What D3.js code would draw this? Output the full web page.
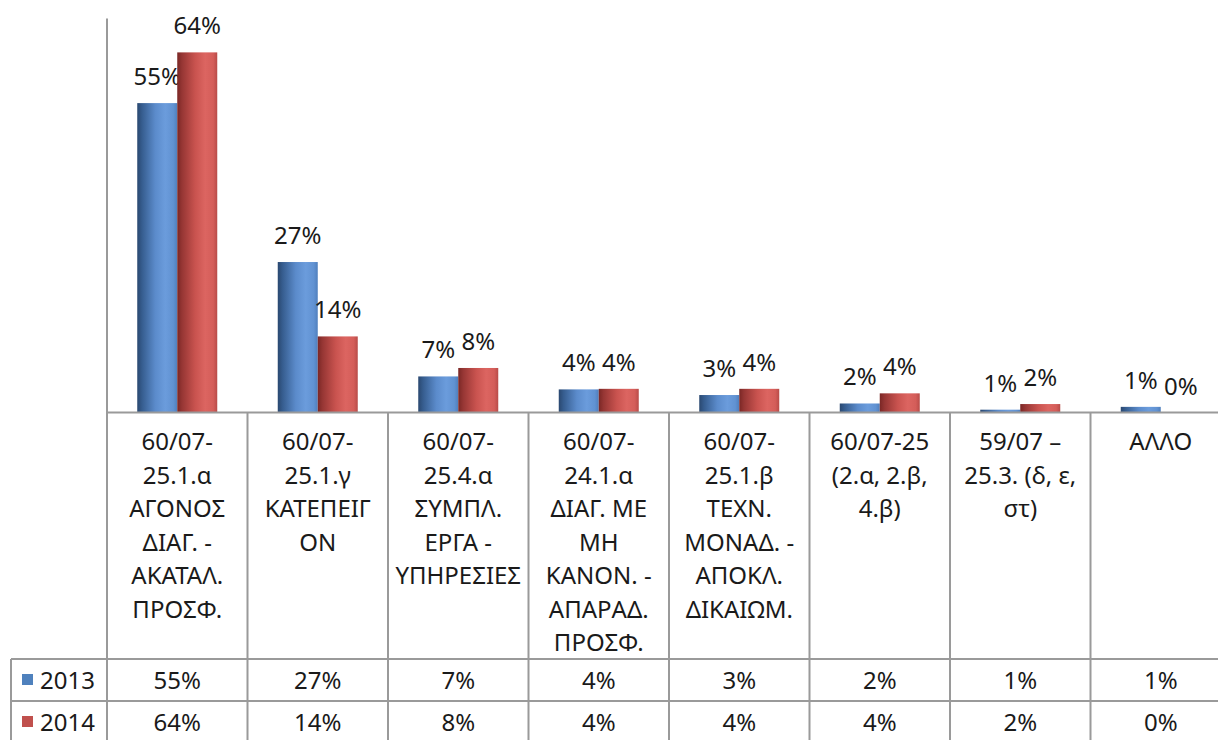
<!DOCTYPE html>
<html>
<head>
<meta charset="utf-8">
<script src="https://cdn.jsdelivr.net/npm/d3@7"></script>
<style>
  html, body { margin: 0; padding: 0; background: #fff; }
  svg { display: block; }
  text { font-family: "Noto Sans", "Open Sans", sans-serif; fill: #1a1a1a; }
</style>
</head>
<body>
<svg id="chart" width="1218" height="740"></svg>
<script>
// ---- data ----
const categories = [
  "60/07-25.1.α ΑΓΟΝΟΣ ΔΙΑΓ. - ΑΚΑΤΑΛ. ΠΡΟΣΦ.",
  "60/07-25.1.γ ΚΑΤΕΠΕΙΓΟΝ",
  "60/07-25.4.α ΣΥΜΠΛ. ΕΡΓΑ - ΥΠΗΡΕΣΙΕΣ",
  "60/07-24.1.α ΔΙΑΓ. ΜΕ ΜΗ ΚΑΝΟΝ. - ΑΠΑΡΑΔ. ΠΡΟΣΦ.",
  "60/07-25.1.β ΤΕΧΝ. ΜΟΝΑΔ. - ΑΠΟΚΛ. ΔΙΚΑΙΩΜ.",
  "60/07-25 (2.α, 2.β, 4.β)",
  "59/07 – 25.3. (δ, ε, στ)",
  "ΑΛΛΟ"
];
const categoryLines = [
  ["60/07-", "25.1.α", "ΑΓΟΝΟΣ", "ΔΙΑΓ. -", "ΑΚΑΤΑΛ.", "ΠΡΟΣΦ."],
  ["60/07-", "25.1.γ", "ΚΑΤΕΠΕΙΓ", "ΟΝ"],
  ["60/07-", "25.4.α", "ΣΥΜΠΛ.", "ΕΡΓΑ -", "ΥΠΗΡΕΣΙΕΣ"],
  ["60/07-", "24.1.α", "ΔΙΑΓ. ΜΕ", "ΜΗ", "ΚΑΝΟΝ. -", "ΑΠΑΡΑΔ.", "ΠΡΟΣΦ."],
  ["60/07-", "25.1.β", "ΤΕΧΝ.", "ΜΟΝΑΔ. -", "ΑΠΟΚΛ.", "ΔΙΚΑΙΩΜ."],
  ["60/07-25", "(2.α, 2.β,", "4.β)"],
  ["59/07 –", "25.3. (δ, ε,", "στ)"],
  ["ΑΛΛΟ"]
];
const seriesNames = ["2013", "2014"];
// bar heights (percent)
const values2013 = [54.9, 26.7, 6.4, 4.1, 3.1, 1.6, 0.5, 1.0];
const values2014 = [63.9, 13.5, 7.9, 4.2, 4.2, 3.4, 1.5, 0];
// printed percentages (labels and data table)
const labels2013 = [55, 27, 7, 4, 3, 2, 1, 1];
const labels2014 = [64, 14, 8, 4, 4, 4, 2, 0];
const yMax = 70;

// ---- layout ----
const svg = d3.select("#chart");
const W = 1218;
const plotLeft = 107, colW = 140.5;
const baseY = 412.5, topY = 18;
const tableLeft = 11;
const row1Y = 659, row2Y = 701, tableBottom = 745;
const fontSize = 24;
const lineGap = 33.5;

const x0 = d3.scaleBand().domain(categories)
  .range([plotLeft, plotLeft + colW * categories.length]).padding(0);
const barW = 40;
const x1 = d3.scaleBand().domain(seriesNames)
  .range([x0.bandwidth() / 2 - barW, x0.bandwidth() / 2 + barW]).padding(0);
const y = d3.scaleLinear().domain([0, yMax]).range([baseY, topY]);

const series = [
  { name: "2013", values: values2013, labels: labels2013, grad: "gBlue", color: "#4f81bd" },
  { name: "2014", values: values2014, labels: labels2014, grad: "gRed", color: "#c0504d" }
];

// gradients
const defs = svg.append("defs");
function grad(id, stops) {
  const g = defs.append("linearGradient").attr("id", id)
    .attr("x1", "0").attr("x2", "1").attr("y1", "0").attr("y2", "0");
  stops.forEach(s => g.append("stop").attr("offset", s[0]).attr("stop-color", s[1]));
}
grad("gBlue", [[0, "#2a4870"], [0.12, "#365d8f"], [0.45, "#5b8bcb"], [0.7, "#6b9cdc"], [0.9, "#6192d2"], [1, "#4f7fbd"]]);
grad("gRed", [[0, "#7a2725"], [0.12, "#963634"], [0.45, "#c9534f"], [0.7, "#dc6561"], [0.9, "#d45d59"], [1, "#b84b48"]]);

const lineColor = "#9a9a9a";

// bars
const groups = svg.append("g").selectAll("g.cat")
  .data(categories).join("g").attr("class", "cat")
  .attr("transform", d => `translate(${x0(d)},0)`);

series.forEach(s => {
  groups.append("rect")
    .attr("x", x1(s.name))
    .attr("width", x1.bandwidth())
    .attr("y", (d, i) => y(s.values[i]))
    .attr("height", (d, i) => baseY - y(s.values[i]))
    .attr("fill", `url(#${s.grad})`);
  groups.append("text")
    .attr("x", x1(s.name) + x1.bandwidth() / 2)
    .attr("y", (d, i) => y(s.values[i]) - 18)
    .attr("text-anchor", "middle")
    .attr("font-size", fontSize)
    .text((d, i) => s.labels[i] + "%");
});

// y axis (line only)
const yAxis = d3.axisLeft(y).tickValues([]).tickSizeOuter(0);
const ya = svg.append("g").attr("transform", `translate(${plotLeft - 0.5},0)`).call(yAxis);
ya.select(".domain").attr("stroke", lineColor).attr("stroke-width", 2);

// table lines
const tl = svg.append("g").attr("stroke", lineColor).attr("stroke-width", 2).attr("fill", "none");
// horizontal: axis / category row top
tl.append("line").attr("x1", plotLeft - 1).attr("x2", W).attr("y1", baseY).attr("y2", baseY);
[row1Y, row2Y].forEach(yy => tl.append("line").attr("x1", tableLeft).attr("x2", W).attr("y1", yy).attr("y2", yy));
// verticals at band boundaries
const bounds = categories.map(c => x0(c)).concat([x0.range()[1]]);
tl.selectAll("line.v").data(bounds).join("line").attr("class", "v")
  .attr("x1", d => d).attr("x2", d => d).attr("y1", baseY).attr("y2", tableBottom);
tl.append("line").attr("x1", tableLeft).attr("x2", tableLeft).attr("y1", row1Y).attr("y2", tableBottom);

// category labels
const catText = groups.append("text")
  .attr("text-anchor", "middle")
  .attr("font-size", fontSize);
catText.selectAll("tspan").data((d, i) => categoryLines[i]).join("tspan")
  .attr("x", x0.bandwidth() / 2)
  .attr("y", (d, j) => 450 + j * lineGap)
  .text(d => d);

// data table rows
const rowsY = [row1Y, row2Y];
series.forEach((s, si) => {
  const cy = rowsY[si] + 21;
  svg.append("rect").attr("x", 22).attr("y", cy - 6).attr("width", 11).attr("height", 11).attr("fill", s.color);
  svg.append("text").attr("x", 40).attr("y", cy + 8.5).attr("font-size", fontSize).text(s.name);
  groups.append("text")
    .attr("x", x0.bandwidth() / 2)
    .attr("y", cy + 8.5)
    .attr("text-anchor", "middle")
    .attr("font-size", fontSize)
    .text((d, i) => s.labels[i] + "%");
});
</script>
</body>
</html>
